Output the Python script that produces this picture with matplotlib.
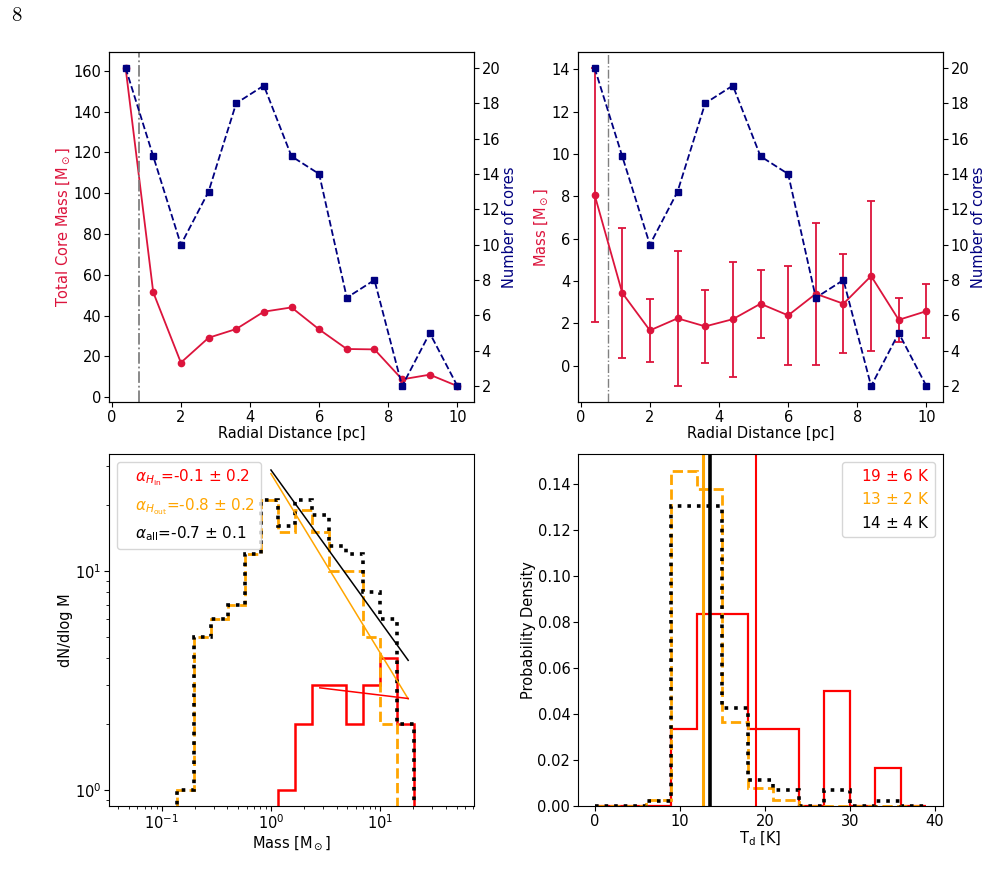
import numpy as np
import matplotlib
matplotlib.use("Agg")
import matplotlib.pyplot as plt
from matplotlib.lines import Line2D

# ---------------- data ----------------
radius = [0.4, 1.2, 2.0, 2.8, 3.6, 4.4, 5.2, 6.0, 6.8, 7.6, 8.4, 9.2, 10.0]
total_mass = [161.5, 51.4, 16.9, 29.1, 33.4, 41.9, 44.0, 33.2, 23.6, 23.4, 8.7, 11.0, 5.4]
n_cores = [20, 15, 10, 13, 18, 19, 15, 14, 7, 8, 2, 5, 2]
mean_mass = [8.07, 3.43, 1.66, 2.23, 1.85, 2.19, 2.92, 2.37, 3.39, 2.92, 4.23, 2.16, 2.57]
mass_err = [5.99, 3.05, 1.49, 3.20, 1.74, 2.71, 1.61, 2.33, 3.36, 2.35, 3.53, 1.03, 1.27]
r_hub = 0.8

# core mass function (per log-mass bin)
m_lo, m_hi, n_bins = 0.138, 20.2, 14
cmf_all = [1, 5, 6, 7, 12, 21, 16, 21, 18, 13, 12, 8, 6, 2]
cmf_out = [1, 5, 6, 7, 12, 21, 15, 19, 15, 10, 10, 5, 2, 0]
cmf_in = [0, 0, 0, 0, 0, 0, 1, 2, 3, 3, 2, 3, 4, 2]
fit_x = [1.0, 18.0]
fit_all_y = [28.9, 3.9]
fit_out_y = [27.8, 2.6]
fit_in_x = [2.8, 18.0]
fit_in_y = [2.92, 2.61]
cmf_labels = [r'$\alpha_{H_{\rm in}}$=-0.1 $\pm$ 0.2',
              r'$\alpha_{H_{\rm out}}$=-0.8 $\pm$ 0.2',
              r'$\alpha_{\rm all}$=-0.7 $\pm$ 0.1']

# dust temperature histograms (counts per 3 K bin)
t_edges = [0, 3, 6, 9, 12, 15, 18, 21, 24, 27, 30, 33, 36, 39]
t_in = [0, 0, 0, 2, 5, 5, 2, 2, 0, 3, 0, 1, 0]
t_out = [0, 0, 1, 56, 53, 14, 3, 1, 0, 0, 0, 0, 0]
t_all = [0, 0, 1, 58, 58, 19, 5, 3, 0, 3, 0, 1, 0]
t_mean = [19.0, 12.8, 13.6]
t_labels = [r'19 $\pm$ 6 K', r'13 $\pm$ 2 K', r'14 $\pm$ 4 K']

# ---------------- style ----------------
plt.rcParams['font.family'] = ['DejaVu Sans']
plt.rcParams['font.size'] = 10.5
plt.rcParams['axes.labelpad'] = 1.0
for a in ('xtick', 'ytick'):
    plt.rcParams[a + '.major.pad'] = 2.0
    plt.rcParams[a + '.minor.pad'] = 2.0
RED = 'crimson'
BLUE = 'navy'

fig = plt.figure(figsize=(9.91, 8.8), dpi=100)
W, H = 991.0, 880.0
def box(l, t, r, b):
    return [l / W, 1 - b / H, (r - l) / W, (b - t) / H]

ax1 = fig.add_axes(box(109, 52, 474, 402))
ax2 = fig.add_axes(box(578, 52, 943, 402))
ax3 = fig.add_axes(box(109, 454, 474, 806))
ax4 = fig.add_axes(box(578, 454, 943, 806))

fig.text(11 / W, 1 - 15 / H, r'$8$', math_fontfamily='cm', fontsize=15,
         ha='left', va='center')

# ---- top-left ----
ax1.plot(radius, total_mass, '-o', color=RED, lw=1.3, ms=4.5)
ax1.axvline(r_hub, color='gray', ls='-.', lw=1.3)
ax1.set_ylabel(r'Total Core Mass [M$_\odot$]', color=RED)
ax1.set_xlabel('Radial Distance [pc]')
ax1.set_yticks(np.arange(0, 161, 20))
ax1.set_xticks([0, 2, 4, 6, 8, 10])
t1 = ax1.twinx()
t1.plot(radius, n_cores, '--s', color=BLUE, lw=1.3, ms=5)
t1.set_ylabel('Number of cores', color=BLUE)
t1.set_yticks(np.arange(2, 21, 2))

# ---- top-right ----
ax2.errorbar(radius, mean_mass, yerr=mass_err, fmt='-o', color=RED, lw=1.3,
             ms=4.5, ecolor=RED, elinewidth=1.3, capsize=3, capthick=1.3)
ax2.axvline(r_hub, color='gray', ls='-.', lw=1.0)
ax2.set_ylabel(r'Mass [M$_\odot$]', color=RED)
ax2.set_xlabel('Radial Distance [pc]')
ax2.set_yticks(np.arange(0, 15, 2))
ax2.set_xticks([0, 2, 4, 6, 8, 10])
t2 = ax2.twinx()
t2.plot(radius, n_cores, '--s', color=BLUE, lw=1.3, ms=5)
t2.set_ylabel('Number of cores', color=BLUE)
t2.set_yticks(np.arange(2, 21, 2))

# ---- bottom-left (CMF) ----
ax3.set_xscale('log')
ax3.set_yscale('log')
m_edges = np.geomspace(m_lo, m_hi, n_bins + 1)
m_cent = np.sqrt(m_edges[:-1] * m_edges[1:])
ax3.hist(m_cent, bins=m_edges, weights=cmf_in, histtype='step', color='red', lw=1.8)
ax3.hist(m_cent, bins=m_edges, weights=cmf_out, histtype='step', color='orange',
         lw=2.0, ls='--')
ax3.hist(m_cent, bins=m_edges, weights=cmf_all, histtype='step', color='black',
         lw=2.6, ls=':')
ax3.plot(fit_x, fit_all_y, color='black', lw=1.1)
ax3.plot(fit_x, fit_out_y, color='orange', lw=1.1)
ax3.plot(fit_in_x, fit_in_y, color='red', lw=1.1)
ax3.set_xlim(0.033, 72)
ax3.set_ylim(0.842, 34.2)
ax3.set_xlabel(r'Mass [M$_\odot$]')
ax3.set_ylabel('dN/dlog M')
h = [Line2D([], [], ls='none') for _ in range(3)]
leg = ax3.legend(h, cmf_labels, loc='upper left', handlelength=0, fontsize=11)
for txt, c in zip(leg.get_texts(), ['red', 'orange', 'black']):
    txt.set_color(c)

# ---- bottom-right (Td) ----
t_cent = [0.5 * (a + b) for a, b in zip(t_edges[:-1], t_edges[1:])]
ax4.hist(t_cent, bins=t_edges, weights=t_in, density=True, histtype='step',
         color='red', lw=1.6)
ax4.hist(t_cent, bins=t_edges, weights=t_out, density=True, histtype='step',
         color='orange', lw=2.0, ls='--')
ax4.hist(t_cent, bins=t_edges, weights=t_all, density=True, histtype='step',
         color='black', lw=2.6, ls=':')
ax4.axvline(t_mean[0], color='red', lw=1.5)
ax4.axvline(t_mean[1], color='orange', lw=2.2)
ax4.axvline(t_mean[2], color='black', lw=2.6)
ax4.set_xlabel(r'T$_{\rm d}$ [K]')
ax4.set_ylabel('Probability Density')
ax4.set_xticks([0, 10, 20, 30, 40])
ax4.set_yticks(np.arange(0, 0.141, 0.02))
leg4 = ax4.legend(h, t_labels, loc='upper right', handlelength=0, fontsize=11)
for txt, c in zip(leg4.get_texts(), ['red', 'orange', 'black']):
    txt.set_color(c)

fig.savefig('out.png', dpi=100)
